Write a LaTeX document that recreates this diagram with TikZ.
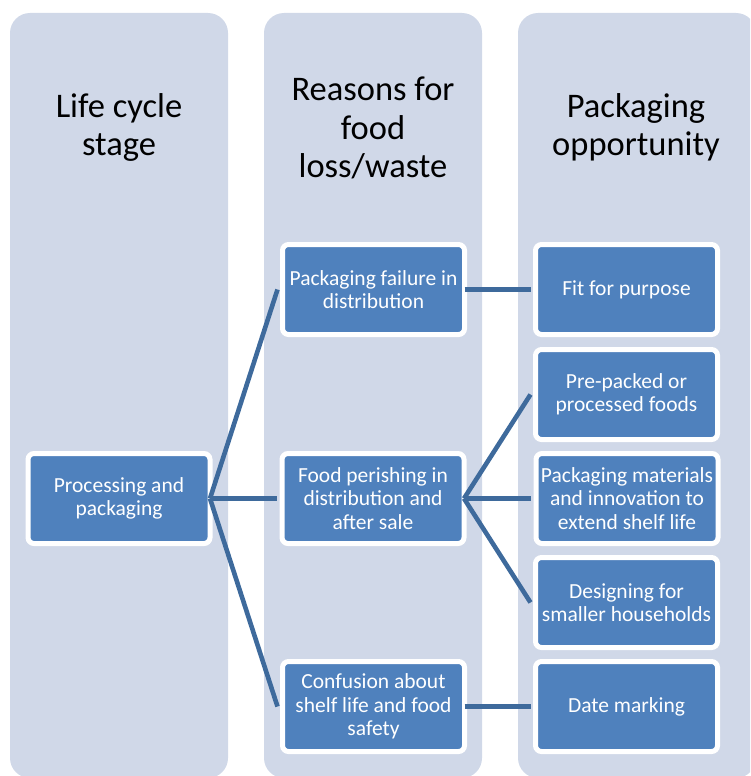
\documentclass[tikz,border=0pt]{standalone}
\usepackage{fontspec}
\setmainfont{Carlito}
\definecolor{colbg}{HTML}{D0D8E8}
\definecolor{boxbl}{HTML}{4F81BD}
\definecolor{linebl}{HTML}{3E6A9C}
\begin{document}
\begin{tikzpicture}[x=1pt,y=-1pt,
  colbox/.style={fill=colbg, rounded corners=20pt},
  title/.style={align=center, font=\fontsize{34.5}{38.5}\selectfont, text=black, inner sep=0pt},
  item/.style={draw=white, line width=5pt, fill=boxbl, rounded corners=6pt,
    minimum width=182pt, minimum height=90pt, inner sep=0pt, align=center,
    text=white, font=\fontsize{21.5}{23.5}\selectfont},
  conn/.style={draw=linebl, line width=4.6pt}]
\useasboundingbox (0,0) rectangle (750,776);
\begin{scope}
  \clip (0,0) rectangle (750,776);
  \fill[colbox] (10,13) rectangle (228,778);
  \fill[colbox] (264,13) rectangle (482,778);
  \fill[colbox] (518,13) rectangle (756,778);
\end{scope}
\node[title] (t1) at (119,127.5) {Life cycle\\stage};
\node[title] (t2) at (373,128) {Reasons for\\food\\loss/waste};
\node[title] (t3) at (636,127.5) {Packaging\\opportunity};

\node[item] (proc) at (119,498.5) {Processing and\\packaging};
\node[item] (pf) at (373.5,289.5) {Packaging failure in\\distribution};
\node[item] (fp) at (373,498.5) {Food perishing in\\distribution and\\after sale};
\node[item] (conf) at (373.5,706.5) {Confusion about\\shelf life and food\\safety};
\node[item] (fit) at (626.5,289.5) {Fit for purpose};
\node[item] (pre) at (626.5,394.5) {Pre-packed or\\processed foods};
\node[item] (mat) at (627,498.5) {Packaging materials\\and innovation to\\extend shelf life};
\node[item] (des) at (626.5,602.5) {Designing for\\smaller households};
\node[item] (date) at (626.5,706.5) {Date marking};

\draw[conn] ([xshift=-2.5pt]proc.east) -- ([xshift=-2.5pt]pf.west);
\draw[conn] ([xshift=-2.5pt]proc.east) -- ([xshift=-2.5pt]fp.west);
\draw[conn] ([xshift=-2.5pt]proc.east) -- ([xshift=-2.5pt]conf.west);
\draw[conn] ([xshift=-2.5pt]pf.east) -- ([xshift=-2.5pt]fit.west);
\draw[conn] ([xshift=-2.5pt]fp.east) -- ([xshift=-2.5pt]pre.west);
\draw[conn] ([xshift=-2.5pt]fp.east) -- ([xshift=-2.5pt]mat.west);
\draw[conn] ([xshift=-2.5pt]fp.east) -- ([xshift=-2.5pt]des.west);
\draw[conn] ([xshift=-2.5pt]conf.east) -- ([xshift=-2.5pt]date.west);
\end{tikzpicture}
\end{document}
